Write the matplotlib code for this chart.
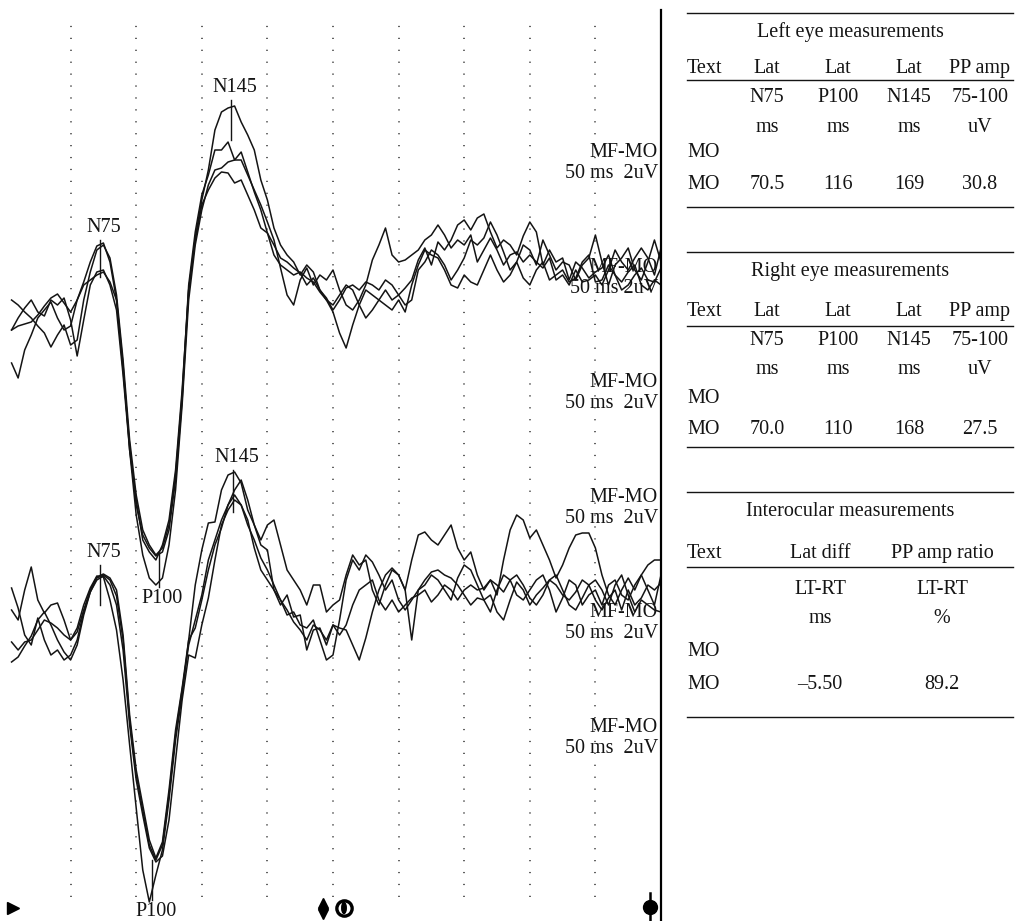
import numpy as np
import matplotlib
matplotlib.use("Agg")
import matplotlib.pyplot as plt
from matplotlib.patches import Ellipse

plt.rcParams['font.family'] = ['Liberation Serif', 'DejaVu Serif']

# sample times (ms), 5 ms apart
t = np.arange(5, 505, 5)

# left eye traces (uV, drawn with the negative peaks upward)
left_1 = [-5.3, -6.8, -4.0, -2.5, -0.8, 0.0, 0.8, -0.8, -2.0, -1.6, 1.0, 2.8, 4.8, 6.4,
          6.7, 4.8, 1.0, -6.0, -13.5, -19.5, -22.5, -23.8, -24.6, -24.2, -22.0, -17.0, -9.0, 2.0, 7.2, 11.0,
          14.0, 18.0, 19.8, 20.2, 20.4, 18.8, 17.5, 16.0, 13.0, 11.0, 8.2, 6.5, 5.5, 4.8, 3.5, 4.5, 3.8, 2.0, 1.0, -0.2,
          -2.3, -3.8, -1.5, 0.5, 2.0, 1.5, 1.0, 2.0, 1.0, 1.5, 2.2, 3.0, 5.0, 6.2, 4.5, 6.8, 6.0, 7.0, 8.5, 9.0,
          8.0, 9.2, 9.6, 7.8, 6.2, 7.0, 6.5, 5.5, 7.4, 8.8, 7.8, 4.5, 6.0, 4.8, 5.2, 3.0, 4.8, 4.2, 3.2, 3.8,
          4.2, 5.5, 3.5, 2.8, 3.8, 4.5, 2.5, 2.0, 3.0, 2.5]
left_2 = [1.0, 0.5, -0.2, -0.8, -1.6, -2.3, -3.7, -2.5, -1.5, -3.5, -3.0, 1.0, 3.8, 6.0,
          6.5, 5.2, 1.5, -5.0, -13.0, -18.5, -22.0, -23.5, -24.5, -23.8, -21.5, -16.5, -8.5, 2.5, 7.8, 11.5,
          13.5, 16.0, 16.0, 16.8, 15.0, 15.8, 13.8, 11.8, 10.0, 7.7, 6.5, 5.2, 4.8, 4.2, 3.7, 2.5, 3.2, 2.0, 1.2, 0.0,
          1.0, 2.2, 2.5, 2.0, 2.8, 2.5, 2.0, 3.0, 2.5, 1.5, 0.5, 1.0, 4.0, 4.8, 6.0, 5.5, 4.5, 3.0, 4.0, 5.2,
          7.0, 6.5, 7.2, 8.8, 7.5, 5.8, 4.0, 4.8, 6.5, 6.0, 4.5, 7.0, 5.5, 4.0, 4.8, 4.5, 3.0, 4.5, 5.2, 7.5,
          4.8, 2.5, 4.5, 5.2, 6.2, 4.0, 3.0, 4.8, 7.0, 4.8]
left_3 = [-2.0, -1.6, -1.4, -1.2, -0.5, 0.4, 1.2, 1.6, 0.7, -0.2, 1.0, 2.5, 3.0, 3.5,
          3.8, 2.8, 1.0, -5.5, -14.0, -20.5, -24.5, -26.8, -27.5, -26.8, -23.5, -18.0, -9.5, 1.0, 6.5, 10.0,
          12.5, 14.0, 14.2, 14.8, 15.0, 15.0, 13.5, 12.0, 10.5, 8.8, 7.0, 4.2, 1.5, 0.5, 3.0, 4.2, 2.5, 3.5, 3.0, 4.0,
          2.0, 0.5, 0.0, 1.0, 2.5, 5.0, 6.5, 8.2, 5.5, 4.8, 5.0, 5.5, 6.0, 7.0, 7.5, 8.5, 7.5, 6.2, 7.0, 6.5,
          7.5, 4.8, 6.0, 7.2, 6.0, 4.5, 5.5, 5.8, 4.8, 5.5, 4.8, 4.2, 5.2, 3.0, 3.5, 2.5, 4.0, 2.8, 3.0, 3.5,
          2.5, 4.0, 6.0, 4.8, 4.0, 5.2, 6.2, 5.2, 3.5, 6.2]
left_4 = [-2.0, -0.8, 0.2, 1.0, -0.2, -0.6, 1.0, 0.5, 1.2, -1.0, -4.6, -1.0, 2.5, 3.8,
          4.0, 2.5, 0.0, -6.5, -14.0, -19.0, -23.0, -24.2, -25.0, -23.5, -21.0, -16.0, -8.0, 2.0, 7.0, 10.5,
          12.0, 13.2, 13.8, 13.7, 12.7, 13.0, 11.5, 10.0, 8.2, 7.7, 5.5, 4.5, 4.0, 3.5, 3.8, 3.2, 2.8, 1.8, 1.0, 0.5,
          1.5, 2.5, 2.0, 0.5, -0.8, 0.0, 1.0, 0.5, 0.0, 1.0, -0.2, 2.5, 4.5, 6.0, 5.5, 5.2, 4.0, 2.5, 2.2, 3.5,
          2.8, 2.5, 4.0, 5.5, 4.0, 2.8, 3.5, 4.8, 3.2, 2.5, 4.0, 4.8, 3.0, 3.5, 4.0, 2.8, 3.2, 4.8, 5.5, 2.8,
          3.0, 4.5, 3.5, 2.0, 2.5, 3.5, 4.2, 3.0, 2.8, 4.2]

# right eye traces
right_1 = [4.2, 2.2, -0.5, -1.5, 1.2, -1.0, -2.5, -2.0, -3.0, -2.5, -1.0, 1.8, 3.8, 5.2,
           5.5, 5.0, 3.4, -1.0, -9.0, -14.5, -18.0, -21.5, -23.0, -21.5, -16.5, -10.5, -6.0, -1.5, 1.0, 3.5,
           7.0, 9.0, 11.0, 12.5, 13.5, 12.5, 10.5, 9.0, 7.2, 6.0, 4.5, 3.0, 1.5, 1.8, 0.5, 0.2, 1.0, -1.0, -3.0, -2.5,
           1.0, 5.0, 7.0, 6.0, 7.5, 6.8, 5.5, 4.0, 5.0, 3.0, 2.0, 3.0, 4.0, 4.5, 5.5, 5.0, 4.0, 3.0, 5.2, 6.5,
           6.0, 4.5, 3.0, 1.8, 4.0, 5.5, 5.0, 3.5, 3.0, 4.0, 5.0, 5.5, 4.0, 1.8, 3.2, 5.0, 4.5, 2.5, 3.5, 4.0,
           2.5, 4.5, 5.0, 3.5, 3.0, 4.5, 5.5, 4.0, 2.5, 5.5]
right_2 = [-1.2, -2.0, -1.2, -1.0, 0.0, 1.0, 0.7, 0.2, -0.5, -1.0, -0.2, 2.0, 4.0, 5.3,
           5.6, 5.2, 4.0, -0.5, -8.5, -14.0, -17.5, -21.0, -22.8, -21.2, -16.0, -10.0, -5.8, -1.0, 4.5, 8.0,
           10.7, 10.8, 14.0, 15.5, 15.8, 14.7, 12.0, 10.5, 9.0, 10.5, 11.0, 8.5, 6.0, 5.0, 4.0, 2.5, 4.5, 4.5, 1.8, 2.5,
           3.0, 5.5, 7.5, 6.5, 7.0, 4.0, 2.5, 4.5, 6.0, 5.5, 4.0, -1.0, 4.0, 5.0, 5.8, 6.0, 5.5, 5.2, 4.5, 3.5,
           2.5, 3.2, 3.0, 3.5, 1.8, 1.0, 3.0, 4.8, 4.0, 2.5, 3.5, 4.2, 5.0, 4.5, 3.5, 3.0, 3.8, 5.0, 4.5, 3.0,
           2.0, 3.2, 4.0, 2.0, 4.0, 2.5, 3.2, 4.5, 4.0, 4.7]
right_3 = [2.0, 1.0, 4.0, 6.3, 3.0, 1.7, 2.5, 2.7, 1.0, -1.0, 0.2, 2.5, 4.2, 5.4,
           5.3, 3.0, 0.0, -5.0, -11.5, -17.8, -24.0, -27.2, -24.5, -22.0, -17.0, -11.0, -6.5, -1.0, 0.2, 3.0,
           6.0, 8.5, 10.2, 12.5, 14.0, 15.0, 13.0, 10.5, 8.5, 8.0, 4.0, 2.5, 3.5, 1.3, 1.5, -2.0, 0.0, 0.2, -1.5, 0.5,
           0.2, 0.0, -1.5, -3.0, -0.8, 1.8, 4.0, 5.5, 6.2, 5.5, 4.0, 7.0, 9.5, 9.8, 9.0, 8.5, 9.5, 10.5, 8.2, 7.0,
           7.8, 5.5, 4.0, 5.0, 3.5, 7.0, 10.0, 11.5, 11.0, 9.2, 10.0, 8.5, 7.0, 5.2, 6.5, 8.2, 9.5, 9.7, 9.7, 8.2,
           5.5, 3.5, 2.5, 4.0, 5.2, 4.0, 5.5, 6.5, 7.0, 7.0]
right_4 = [-3.2, -2.7, -1.6, -0.6, 1.0, 1.8, 0.5, -1.0, -2.2, -3.0, -1.5, 1.5, 3.8, 5.0,
           5.4, 4.5, 2.5, -2.0, -9.5, -15.0, -18.5, -21.8, -23.2, -22.6, -19.0, -13.0, -7.0, -2.5, -2.8, 0.5,
           3.2, 7.0, 10.5, 12.0, 13.0, 12.5, 11.0, 8.2, 6.0, 5.0, 4.0, 3.0, 2.0, 0.8, 0.0, -1.0, 0.5, 0.0, -1.0, 0.5,
           -0.5, 0.5, 2.5, 4.0, 4.5, 5.0, 3.0, 2.0, 3.0, 1.8, 2.5, 3.2, 3.5, 4.0, 2.8, 3.5, 4.5, 4.0, 3.0, 4.0,
           4.5, 4.0, 4.2, 5.0, 4.5, 3.8, 5.0, 5.5, 4.5, 3.2, 2.5, 3.5, 5.0, 5.5, 4.0, 2.5, 2.0, 3.2, 4.5, 5.0,
           4.0, 2.5, 4.5, 5.5, 3.5, 1.8, 3.0, 2.5, 2.0, 1.8]

# peak markers: (name, time ms, marker top uV, marker bottom uV)
left_peaks = [("N75", 72.5, 7.0, 3.3), ("P100", 117.0, -24.3, -27.7), ("N145", 172.0, 21.0, 17.0)]
right_peaks = [("N75", 72.5, 6.5, 2.5), ("P100", 112.0, -23.0, -27.0), ("N145", 174.0, 16.0, 11.8)]

# tables
left_title = "Left eye measurements"
left_rows = [["Text", "Lat", "Lat", "Lat", "PP amp"],
             ["", "N75", "P100", "N145", "75-100"],
             ["", "ms", "ms", "ms", "uV"],
             ["MO", "", "", "", ""],
             ["MO", "70.5", "116", "169", "30.8"]]
right_title = "Right eye measurements"
right_rows = [["Text", "Lat", "Lat", "Lat", "PP amp"],
              ["", "N75", "P100", "N145", "75-100"],
              ["", "ms", "ms", "ms", "uV"],
              ["MO", "", "", "", ""],
              ["MO", "70.0", "110", "168", "27.5"]]
inter_title = "Interocular measurements"
inter_rows = [["Text", "Lat diff", "PP amp ratio"],
              ["", "LT-RT", "LT-RT"],
              ["", "ms", "%"],
              ["MO", "", ""],
              ["MO", "\u20135.50", "89.2"]]

channel_labels = ["MF-MO\n50 ms  2uV", "MF-MO\n50 ms 2uV", "MF-MO\n50 ms  2uV",
                  "MF-MO\n50 ms  2uV", "MF-MO\n50 ms  2uV", "MF-MO\n50 ms  2uV"]

W, H = 1015, 921
fig = plt.figure(figsize=(W / 100, H / 100), dpi=100)
fig.patch.set_facecolor("white")

ink = "#141414"
fs = 14.5

# ---- traces ----
ax = fig.add_axes([5 / W, 0, 656 / W, 1])
ax.set_xlim(0, 500)
ax.set_ylim(-46.1, 46.0)
ax.axis("off")

ax.vlines(np.arange(50, 500, 50), -43.7, 44.1, colors="#333333",
          linestyles=(0, (0.8, 7.0)), linewidth=1.1)

top_off, bot_off = 15.0, -17.0
for tr in [left_1, left_2, left_3, left_4]:
    ax.plot(t, np.array(tr) + top_off, color=ink, lw=1.1)
for tr in [right_1, right_2, right_3, right_4]:
    ax.plot(t, np.array(tr) + bot_off, color=ink, lw=1.1)

for peaks, off in [(left_peaks, top_off), (right_peaks, bot_off)]:
    for name, tm, y1, y2 in peaks:
        ax.plot([tm, tm], [y1 + off, y2 + off], color=ink, lw=1.0)
        if name.startswith("N"):
            ax.text(tm + 3, y1 + off + 0.3, name, ha="center", va="bottom",
                    fontsize=fs, color=ink)
        else:
            ax.text(tm + 3, y2 + off - 0.2, name, ha="center", va="top",
                    fontsize=fs, color=ink)

# ---- overlay in pixel space ----
ov = fig.add_axes([0, 0, 1, 1])
ov.set_xlim(0, W)
ov.set_ylim(H, 0)
ov.axis("off")
ov.patch.set_alpha(0)

ov.plot([661, 661], [10, H], color="black", lw=1.6)

for i, lab in enumerate(channel_labels):
    ov.text(658, 163 + i * 115, lab, ha="right", va="center", fontsize=fs,
            color=ink, linespacing=1.15)


def draw_table(title, rows, cols, aligns, ys):
    top, title_y, head_y, line_y, row_ys, bot = ys
    ov.plot([687, 1013], [top, top], color=ink, lw=1.0)
    ov.plot([687, 1013], [line_y, line_y], color=ink, lw=1.0)
    ov.plot([687, 1013], [bot, bot], color=ink, lw=1.0)
    ov.text(850, title_y + 6, title, ha="center", va="baseline", fontsize=fs, color=ink)
    for r, ry in zip(rows, [head_y] + row_ys):
        for txt, cx, al in zip(r, cols, aligns):
            ov.text(cx, ry + 6, txt, ha=al, va="baseline", fontsize=fs, color=ink)


eye_cols = [687, 767, 838, 909, 980]
eye_al = ["left", "center", "center", "center", "center"]
draw_table(left_title, left_rows, eye_cols, eye_al,
           (13, 31, 67, 80, [96, 126, 151, 183], 207))
draw_table(right_title, right_rows, eye_cols, eye_al,
           (252, 270, 310, 326, [339, 368, 397, 428], 447))
draw_table(inter_title, inter_rows, [687, 820, 942], ["left", "center", "center"],
           (492, 510, 552, 567, [588, 617, 650, 683], 717))

# ---- bottom icons ----
ov.plot(13, 908, marker=">", color="black", markersize=8)
ov.plot(323, 902.5, marker="^", color="black", markersize=6.5)
ov.plot(323, 914, marker="v", color="black", markersize=6.5)
ov.plot(344, 908, marker="o", markerfacecolor="white", markeredgecolor="black",
        markeredgewidth=2.4, markersize=11, zorder=3)
ov.add_patch(Ellipse((344, 908), 4.5, 11, color="black", zorder=4))
ov.plot([650, 650], [893, H], color="black", lw=1.8)
ov.plot(650, 907, marker="o", color="black", markersize=10)

fig.savefig("out.png", dpi=100, facecolor="white")
